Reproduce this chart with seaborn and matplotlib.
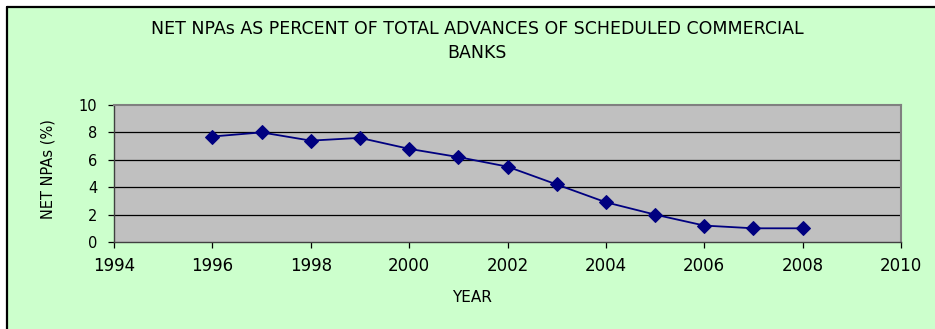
import matplotlib
matplotlib.use("Agg")
import matplotlib.pyplot as plt
import seaborn as sns
import pandas as pd
from matplotlib.patches import Rectangle
from matplotlib.lines import Line2D

years = [1996, 1997, 1998, 1999, 2000, 2001, 2002, 2003, 2004, 2005, 2006, 2007, 2008]
net_npas = [7.7, 8.0, 7.4, 7.6, 6.8, 6.2, 5.5, 4.2, 2.9, 2.0, 1.2, 1.0, 1.0]
x_ticks = [1994, 1996, 1998, 2000, 2002, 2004, 2006, 2008, 2010]
y_ticks = [0, 2, 4, 6, 8, 10]
title = "NET NPAs AS PERCENT OF TOTAL ADVANCES OF SCHEDULED COMMERCIAL\nBANKS"

sns.set_style("white")
plt.rcParams["font.family"] = ["DejaVu Sans"]
plt.rcParams["text.color"] = "black"
plt.rcParams["axes.labelcolor"] = "black"
plt.rcParams["xtick.color"] = "black"
plt.rcParams["ytick.color"] = "black"

W, H = 935, 329
fig = plt.figure(figsize=(W / 100, H / 100), dpi=100)
fig.patch.set_facecolor("white")

# green chart area with border on left/top
bx, by = 7 / W, 1 - 7 / H
fig.patches.append(Rectangle((bx, 0), 1 - bx, by, transform=fig.transFigure,
                             facecolor="#CCFFCC", edgecolor="none", zorder=-2))
fig.lines.append(Line2D([bx, bx], [0, by], transform=fig.transFigure, color="black",
                        lw=1.6, zorder=-1))
fig.lines.append(Line2D([bx, 1], [by, by], transform=fig.transFigure, color="black",
                        lw=1.6, zorder=-1))

left, right, top, bottom = 114 / W, 901 / W, 105 / H, 242 / H
ax = fig.add_axes([left, 1 - bottom, right - left, bottom - top])
ax.set_zorder(1)
ax.set_facecolor("#C0C0C0")

df = pd.DataFrame({"year": years, "npa": net_npas})
sns.lineplot(data=df, x="year", y="npa", ax=ax, color="#000080", lw=1.3,
             marker="D", markersize=7, markeredgecolor="#000080", zorder=3)

ax.set_xlim(1994, 2010)
ax.set_ylim(0, 10)
ax.set_xticks(x_ticks)
ax.set_yticks(y_ticks)
ax.set_xticklabels([str(t) for t in x_ticks], fontsize=12)
ax.set_yticklabels([str(t) for t in y_ticks], fontsize=10.5)
for yv in y_ticks[1:-1]:
    ax.axhline(yv, color="black", lw=0.9, zorder=1)

for s in ["left", "bottom"]:
    ax.spines[s].set_color("#404040")
    ax.spines[s].set_linewidth(1.0)
for s in ["right", "top"]:
    ax.spines[s].set_color("#808080")
    ax.spines[s].set_linewidth(1.5)

ax.tick_params(axis="both", direction="out", length=4, width=0.9, color="black",
               left=True, bottom=True)
ax.tick_params(axis="x", pad=7)
ax.tick_params(axis="y", pad=8)

ax.set_xlabel("YEAR", fontsize=11, va="center")
ax.xaxis.set_label_coords((472 - 114) / 787, (242 - 297) / 137)
ax.set_ylabel("NET NPAs (%)", fontsize=10.5, va="center")
ax.yaxis.set_label_coords((48 - 114) / 787, (242 - 169) / 137)

fig.text(477 / W, 1 - 41 / H, title, ha="center", va="center", fontsize=12.5,
         linespacing=1.4)

fig.savefig("out.png", dpi=100, facecolor=fig.get_facecolor())
